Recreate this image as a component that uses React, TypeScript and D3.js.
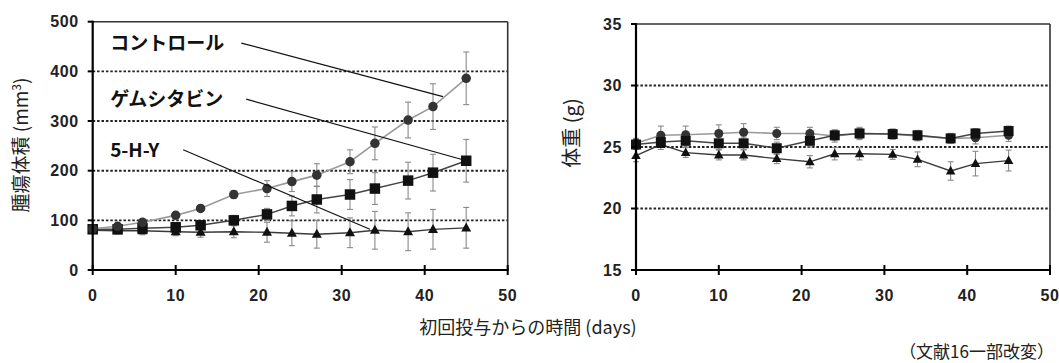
import React from 'react';
import * as d3 from 'd3';

const days = [0, 3, 6, 10, 13, 17, 21, 24, 27, 31, 34, 38, 41, 45];

const tumorControl = [83, 88, 96, 110, 124, 152, 164, 178, 191, 218, 255, 302, 329, 386];
const tumorControlErr = [5, 5, 6, 6, 6, 8, 16, 20, 23, 24, 33, 36, 46, 53];
const tumorGem = [82, 82, 84, 86, 90, 100, 112, 129, 142, 152, 164, 180, 196, 220];
const tumorGemErr = [5, 5, 6, 8, 8, 10, 12, 20, 27, 30, 32, 37, 37, 43];
const tumorHY = [80, 79, 79, 77, 76, 77, 76, 74, 72, 75, 80, 77, 82, 85];
const tumorHYErr = [6, 6, 8, 8, 10, 12, 20, 25, 28, 30, 38, 38, 40, 41];

const weightControl = [25.3, 25.95, 26.0, 26.1, 26.2, 26.1, 26.1, 25.9, 26.1, 26.05, 25.9, 25.7, 25.75, 25.95];
const weightControlErr = [0.4, 0.75, 0.7, 0.7, 0.7, 0.5, 0.5, 0.5, 0.5, 0.4, 0.4, 0.4, 0.5, 0.5];
const weightGem = [25.2, 25.4, 25.5, 25.3, 25.3, 24.9, 25.5, 25.95, 26.1, 26.05, 25.95, 25.7, 26.1, 26.3];
const weightGemErr = [0.4, 0.4, 0.5, 0.5, 0.5, 0.5, 0.5, 0.4, 0.4, 0.4, 0.4, 0.4, 0.4, 0.4];
const weightHY = [24.3, 25.2, 24.55, 24.35, 24.35, 24.05, 23.8, 24.45, 24.45, 24.4, 24.0, 23.05, 23.65, 23.9];
const weightHYErr = [0.5, 0.4, 0.4, 0.4, 0.4, 0.4, 0.5, 0.5, 0.5, 0.4, 0.6, 0.75, 1.0, 0.85];

const xTicks = [0, 10, 20, 30, 40, 50];
const tumorTicks = [0, 100, 200, 300, 400, 500];
const tumorGrid = [100, 200, 300, 400];
const weightTicks = [15, 20, 25, 30, 35];
const weightGrid = [20, 25, 30];

const labelNames = ['コントロール', 'ゲムシタビン', '5-H-Y'];
// leader lines in data coordinates: [x0, y0, x1, y1]
const leaders = [
  [17.9, 457, 42.2, 349],
  [18.5, 344, 44.6, 222],
  [10.9, 242, 33.4, 82],
];
const labelX = 2.1;

const yTitleLeft = '腫瘍体積 (mm';
const yTitleRight = '体重 (g)';
const xTitle = '初回投与からの時間 (days)';
const footnote = '（文献16一部改変）';

const NUM_FONT = '"Liberation Sans", Arial, sans-serif';
const JP_FONT = '"Noto Sans CJK JP", "Liberation Sans", sans-serif';

type Series = { vals: number[]; errs: number[]; line: string; lw: number; marker: string; fill: string };

function Marker({ type, x, y, fill, size }: { type: string; x: number; y: number; fill: string; size: number }) {
  if (type === 'circle') return <circle cx={x} cy={y} r={size * 0.5} fill={fill} />;
  if (type === 'square')
    return <rect x={x - size * 0.5} y={y - size * 0.5} width={size} height={size} fill={fill} />;
  const h = size * 0.9;
  return (
    <path
      d={`M${x},${y - h * 0.6} L${x + size * 0.5},${y + h * 0.4} L${x - size * 0.5},${y + h * 0.4} Z`}
      fill={fill}
    />
  );
}

function Panel({
  x0, x1, y0, y1, yDomain, yTicks, grid, series, markerScale,
}: {
  x0: number; x1: number; y0: number; y1: number; yDomain: [number, number];
  yTicks: number[]; grid: number[]; series: Series[]; markerScale: number;
}) {
  const xs = d3.scaleLinear().domain([0, 50]).range([x0, x1]);
  const ys = d3.scaleLinear().domain(yDomain).range([y1, y0]);
  const line = d3.line<number>().x((_, i) => xs(days[i])).y((d) => ys(d));
  return (
    <g>
      {grid.map((g) => (
        <line key={g} x1={x0} x2={x1} y1={ys(g)} y2={ys(g)} stroke="#222" strokeWidth={1.9} strokeDasharray="2.5,1.9" />
      ))}
      {/* frame top/right */}
      <line x1={x0} x2={x1} y1={y0} y2={y0} stroke="#333" strokeWidth={1.6} />
      <line x1={x1} x2={x1} y1={y0} y2={y1} stroke="#333" strokeWidth={1.6} />
      {series.map((s, si) => (
        <g key={'e' + si}>
          {s.vals.map((v, i) => {
            const cx = xs(days[i]);
            const t = ys(v + s.errs[i]);
            const b = ys(v - s.errs[i]);
            return (
              <g key={i} stroke="#8a8a8a" strokeWidth={1.1}>
                <line x1={cx} x2={cx} y1={t} y2={b} />
                <line x1={cx - 3} x2={cx + 3} y1={t} y2={t} />
                <line x1={cx - 3} x2={cx + 3} y1={b} y2={b} />
              </g>
            );
          })}
        </g>
      ))}
      {series.map((s, si) => (
        <path key={'l' + si} d={line(s.vals) || ''} fill="none" stroke={s.line} strokeWidth={s.lw} />
      ))}
      {series.map((s, si) => (
        <g key={'m' + si}>
          {s.vals.map((v, i) => (
            <Marker key={i} type={s.marker} x={xs(days[i])} y={ys(v)} fill={s.fill}
              size={(s.marker === 'square' ? 10.5 : s.marker === 'circle' ? 9.5 : 10) * markerScale} />
          ))}
        </g>
      ))}
      {/* axes */}
      <line x1={x0} x2={x0} y1={y0 - 1} y2={y1} stroke="#000" strokeWidth={2.2} />
      <line x1={x0} x2={x1 + 1} y1={y1} y2={y1} stroke="#000" strokeWidth={2.2} />
      {yTicks.map((t) => (
        <g key={t}>
          <line x1={x0 - 5} x2={x0} y1={ys(t)} y2={ys(t)} stroke="#000" strokeWidth={2} />
          <text x={x0 - 14} y={ys(t)} dy="0.36em" textAnchor="end" fontFamily={NUM_FONT} fontWeight="bold" fontSize={16} letterSpacing={0.6} fill="#222">
            {t}
          </text>
        </g>
      ))}
      {xTicks.map((t) => (
        <g key={t}>
          <line x1={xs(t)} x2={xs(t)} y1={y1 - 5} y2={y1 + 5} stroke="#000" strokeWidth={2} />
          <text x={xs(t)} y={y1 + 31} textAnchor="middle" fontFamily={NUM_FONT} fontWeight="bold" fontSize={16} letterSpacing={0.6} fill="#222">
            {t}
          </text>
        </g>
      ))}
    </g>
  );
}

export default function App() {
  const L = { x0: 92.7, x1: 507.7, y0: 21.7, y1: 270 };
  const R = { x0: 636, x1: 1050, y0: 24, y1: 270 };
  const lx = d3.scaleLinear().domain([0, 50]).range([L.x0, L.x1]);
  const ly = d3.scaleLinear().domain([0, 500]).range([L.y1, L.y0]);

  const tumorSeries: Series[] = [
    { vals: tumorHY, errs: tumorHYErr, line: '#3a3a3a', lw: 1.3, marker: 'triangle', fill: '#111' },
    { vals: tumorGem, errs: tumorGemErr, line: '#444', lw: 1.5, marker: 'square', fill: '#111' },
    { vals: tumorControl, errs: tumorControlErr, line: '#9a9a9a', lw: 1.6, marker: 'circle', fill: '#333' },
  ];
  const weightSeries: Series[] = [
    { vals: weightHY, errs: weightHYErr, line: '#3a3a3a', lw: 1.3, marker: 'triangle', fill: '#111' },
    { vals: weightControl, errs: weightControlErr, line: '#9a9a9a', lw: 1.6, marker: 'circle', fill: '#333' },
    { vals: weightGem, errs: weightGemErr, line: '#444', lw: 1.5, marker: 'square', fill: '#111' },
  ];

  return (
    <svg width={1059} height={363} style={{ position: 'absolute', left: 0, top: 0, background: '#fff' }}>
      <rect width={1059} height={363} fill="#fff" />
      <Panel {...L} yDomain={[0, 500]} yTicks={tumorTicks} grid={tumorGrid} series={tumorSeries} markerScale={1} />
      <Panel {...R} yDomain={[15, 35]} yTicks={weightTicks} grid={weightGrid} series={weightSeries} markerScale={0.95} />

      {leaders.map((l, i) => (
        <line key={i} x1={lx(l[0])} y1={ly(l[1])} x2={lx(l[2])} y2={ly(l[3])} stroke="#111" strokeWidth={1.2} />
      ))}
      {labelNames.map((n, i) => (
        <text key={n} x={lx(labelX)} y={ly(leaders[i][1])} dy="0.36em" fontFamily={JP_FONT} fontWeight="bold" fontSize={19} fill="#111">
          {n}
        </text>
      ))}

      <text transform="translate(28,145) rotate(-90)" textAnchor="middle" fontFamily={JP_FONT} fontSize={19} fill="#222">
        {yTitleLeft}
        <tspan fontSize={12} dy={-7}>3</tspan>
        <tspan dy={7}>)</tspan>
      </text>
      <text transform="translate(579,133) rotate(-90)" textAnchor="middle" fontFamily={JP_FONT} fontSize={20} fill="#222">
        {yTitleRight}
      </text>
      <text x={528} y={334} textAnchor="middle" fontFamily={JP_FONT} fontSize={18} fill="#222">
        {xTitle}
      </text>
      <text x={1054} y={358} textAnchor="end" fontFamily={JP_FONT} fontSize={17} fill="#222">
        {footnote}
      </text>
    </svg>
  );
}
